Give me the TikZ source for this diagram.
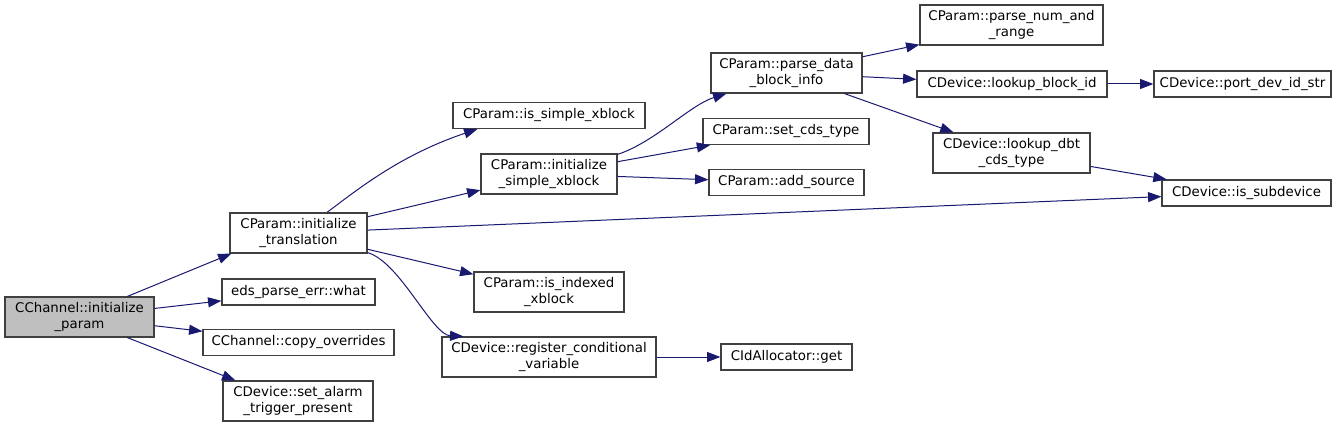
\documentclass[tikz,border=0pt]{standalone}
\usepackage{fontspec}
\setmainfont{DejaVu Sans}
\usetikzlibrary{arrows.meta,calc}
\definecolor{mblue}{RGB}{25,25,112}

\begin{document}
\begin{tikzpicture}[x=0.75pt,y=-0.75pt,
  fn/.style 2 args={draw=black!75,line width=0.9pt,fill=white,inner sep=0pt,align=center,
    minimum width=#1*0.75pt,minimum height=#2*0.75pt,font=\fontsize{10}{12}\selectfont},
  call/.style={draw=mblue,line width=0.75pt,-{Triangle[length=10pt,width=7.5pt,fill=mblue]}}]
\useasboundingbox (0,0) rectangle (1344,427);
% functions
\node[fn={149}{40},fill=black!25] (ip) at (79.5,317) {CChannel::initialize\\\_param};
\node[fn={137}{40}] (it) at (298.5,233) {CParam::initialize\\\_translation};
\node[fn={153}{26}] (wh) at (298.5,292) {eds\_parse\_err::what};
\node[fn={191}{26}] (co) at (298.5,342.5) {CChannel::copy\_overrides};
\node[fn={150}{40}] (sa) at (298,401) {CDevice::set\_alarm\\\_trigger\_present};
\node[fn={192}{26}] (isx) at (549,115.5) {CParam::is\_simple\_xblock};
\node[fn={136}{40}] (sx) at (549,174) {CParam::initialize\\\_simple\_xblock};
\node[fn={150}{40}] (idx) at (549,292) {CParam::is\_indexed\\\_xblock};
\node[fn={214}{40}] (reg) at (549,357) {CDevice::register\_conditional\\\_variable};
\node[fn={151}{40}] (pd) at (786.5,73) {CParam::parse\_data\\\_block\_info};
\node[fn={166}{26}] (sc) at (786,131.5) {CParam::set\_cds\_type};
\node[fn={155}{26}] (as) at (786.5,182.5) {CParam::add\_source};
\node[fn={131}{26}] (get) at (786.5,357) {CIdAllocator::get};
\node[fn={183}{40}] (nr) at (1011.5,25) {CParam::parse\_num\_and\\\_range};
\node[fn={190}{26}] (lb) at (1012,84) {CDevice::lookup\_block\_id};
\node[fn={157}{40}] (dbt) at (1011.5,153) {CDevice::lookup\_dbt\\\_cds\_type};
\node[fn={177}{26}] (pds) at (1242.5,84) {CDevice::port\_dev\_id\_str};
\node[fn={169}{26}] (sub) at (1246.5,193) {CDevice::is\_subdevice};
% calls
\draw[call] ($(ip.north west)+(123,0)$) -- ($(it.south west)+(2,0)$);
\draw[call] (ip) -- (wh); \draw[call] (ip) -- (co);
\draw[call] ($(ip.south west)+(123,0)$) -- ($(sa.north west)+(13,0)$);
\draw[call] ($(it.north)+(28.5,0)$) .. controls (357,190) and (400,155) .. ($(isx.south west)+(25,0)$);
\draw[call] (it) -- (sx); \draw[call] (it) -- (sub); \draw[call] (it) -- (idx);
\draw[call] ($(it.south east)+(0,-1)$) .. controls (400,262) and (432,335) .. ($(reg.north west)+(22,0)$);
\draw[call] ($(sx.north east)+(0,1)$) .. controls (655,142) and (690,105) .. ($(pd.south west)+(16,0)$);
\draw[call] (sx) -- (sc); \draw[call] (sx) -- (as);
\draw[call] (pd) -- (nr); \draw[call] (pd) -- (lb); \draw[call] (pd) -- (dbt);
\draw[call] (lb) -- (pds); \draw[call] (dbt) -- (sub); \draw[call] (reg) -- (get);
\end{tikzpicture}
\end{document}
